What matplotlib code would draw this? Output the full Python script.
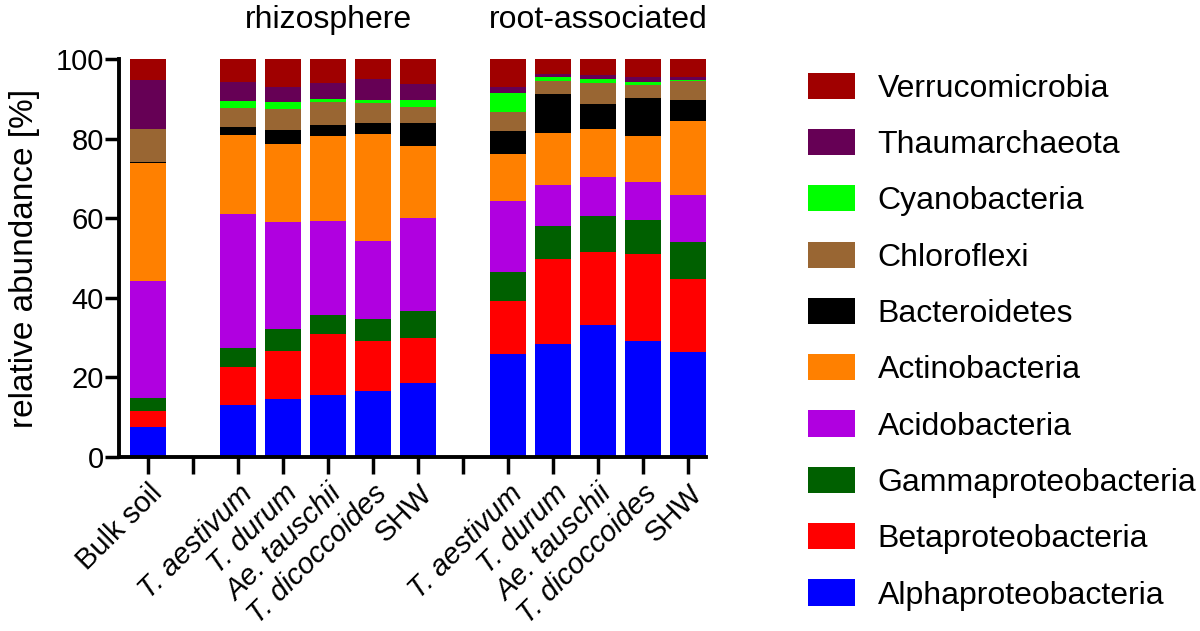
import matplotlib
matplotlib.use("Agg")
import matplotlib.pyplot as plt
from matplotlib.patches import Patch
import numpy as np

plt.rcParams['font.family'] = ['Liberation Sans', 'DejaVu Sans']

# sample labels (empty strings are the spacer ticks between groups)
samples = ["Bulk soil", "",
           "T. aestivum", "T. durum", "Ae. tauschii", "T. dicoccoides", "SHW", "",
           "T. aestivum", "T. durum", "Ae. tauschii", "T. dicoccoides", "SHW"]
italic = [False, False, True, True, True, True, False, False,
          True, True, True, True, False]

phyla = ["Alphaproteobacteria", "Betaproteobacteria", "Gammaproteobacteria",
         "Acidobacteria", "Actinobacteria", "Bacteroidetes", "Chloroflexi",
         "Cyanobacteria", "Thaumarchaeota", "Verrucomicrobia"]
colors = ["#0000FF", "#FF0000", "#006000", "#B000E0", "#FF8000",
          "#000000", "#996633", "#00FF00", "#660055", "#A00000"]

# relative abundance [%] per phylum, one value per sample (nan = spacer)
nan = np.nan
alpha = [7.6, nan, 13.0, 14.7, 15.5, 16.5, 18.7, nan, 26.0, 28.5, 33.1, 29.2, 26.5]
beta = [3.9, nan, 9.5, 11.9, 15.3, 12.7, 11.2, nan, 13.1, 21.2, 18.4, 21.8, 18.3]
gamma = [3.4, nan, 4.9, 5.5, 5.0, 5.6, 6.8, nan, 7.3, 8.5, 9.1, 8.6, 9.2]
acido = [29.4, nan, 33.6, 27.0, 23.6, 19.6, 23.5, nan, 17.9, 10.3, 9.8, 9.6, 12.0]
actino = [29.5, nan, 19.9, 19.7, 21.4, 26.8, 18.1, nan, 11.8, 13.0, 12.1, 11.5, 18.4]
bactero = [0.3, nan, 2.1, 3.4, 2.8, 2.9, 5.7, nan, 5.8, 9.7, 6.3, 9.6, 5.3]
chloro = [8.4, nan, 4.8, 5.3, 5.7, 4.8, 4.1, nan, 4.9, 3.3, 5.2, 3.3, 4.8]
cyano = [0.0, nan, 1.8, 1.7, 0.7, 0.9, 1.6, nan, 4.8, 1.0, 1.0, 0.8, 0.4]
thaum = [12.3, nan, 4.6, 3.8, 4.1, 5.2, 4.0, nan, 1.4, 0.8, 1.0, 1.1, 0.7]
verruco = [5.2, nan, 5.8, 7.0, 5.9, 5.0, 6.3, nan, 7.0, 3.7, 4.0, 4.5, 4.4]

series = [alpha, beta, gamma, acido, actino, bactero, chloro, cyano, thaum, verruco]

fig = plt.figure(figsize=(12, 6.31), dpi=100)
ax = fig.add_axes([0.0992, 0.2758, 0.4892, 0.6302])

x = np.arange(len(samples))
bottom = np.zeros(len(samples))
for vals, col in zip(series, colors):
    v = np.array(vals, dtype=float)
    ax.bar(x, v, 0.8, bottom=bottom, color=col, edgecolor='none')
    bottom = bottom + np.nan_to_num(v)

ax.set_xlim(-0.644, 12.4)
ax.set_ylim(0, 100)
ax.set_yticks([0, 20, 40, 60, 80, 100])
ax.set_xticks(x)
ax.set_xticklabels(samples, rotation=45, ha='right', va='top',
                   rotation_mode='anchor', fontsize=21)
for lab, it in zip(ax.get_xticklabels(), italic):
    if it:
        lab.set_fontstyle('italic')
ax.tick_params(axis='y', labelsize=21, length=10, width=2.5, pad=1)
ax.tick_params(axis='x', length=12, width=2.5, pad=4)
for s in ['top', 'right']:
    ax.spines[s].set_visible(False)
for s in ['left', 'bottom']:
    ax.spines[s].set_linewidth(2.8)
ax.set_ylabel("relative abundance [%]", fontsize=24, labelpad=11)

# group headings
ax.text(4, 1.06, "rhizosphere", transform=ax.get_xaxis_transform(),
        ha='center', va='bottom', fontsize=23)
ax.text(10, 1.06, "root-associated", transform=ax.get_xaxis_transform(),
        ha='center', va='bottom', fontsize=23)

handles = [Patch(facecolor=c, edgecolor='none') for c in colors][::-1]
fig.legend(handles, phyla[::-1], loc='upper left', bbox_to_anchor=(0.673, 0.885),
           frameon=False, fontsize=23, handlelength=1.47, handleheight=0.88,
           labelspacing=0.79, handletextpad=0.72, borderpad=0, borderaxespad=0)

fig.savefig("out.png", dpi=100)
